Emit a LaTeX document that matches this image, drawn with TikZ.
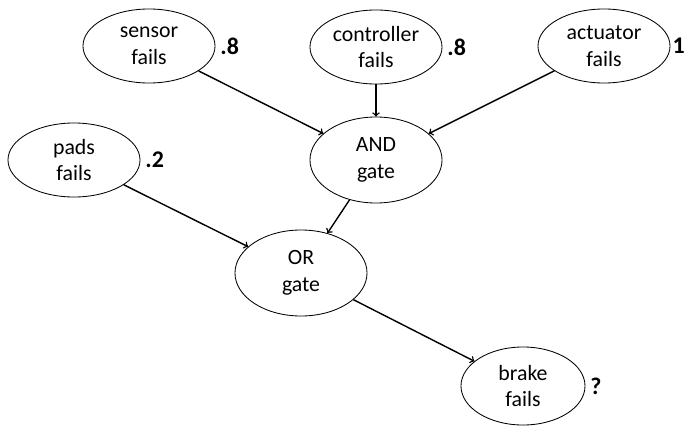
\documentclass[tikz,border=0pt]{standalone}
\usepackage{fontspec}
\setmainfont{Carlito}
\usetikzlibrary{shapes.geometric}
\tikzset{
    event/.style={draw,ellipse,line width=0.6pt,minimum width=3.3cm,minimum height=1.85cm,inner sep=0pt,align=center,font=\fontsize{15.5}{19}\selectfont},
    prob/.style={font=\fontsize{17}{20}\selectfont\bfseries,label distance=0pt},
    link/.style={->,line width=1pt}
}
\begin{document}
\begin{tikzpicture}[x=0.025cm,y=-0.025cm]
        \useasboundingbox(0,0)rectangle(685,428);
        \node[event,label={[prob]right:.8}](sensor)at(149,46){sensor\\fails};
        \node[event,label={[prob]right:.8}](controller)at(376,47){controller\\fails};
        \node[event,label={[prob,label distance=-2pt]right:1}](actuator)at(604,46){actuator\\fails};
        \node[event,label={[prob]right:.2}](pads)at(74,160){pads\\fails};
        \node[event,minimum height=2.15cm](and)at(376,160){AND\\gate};
        \node[event,minimum height=2.15cm](or)at(301,273){OR\\gate};
        \node[event,minimum width=3.1cm,minimum height=1.95cm,label={[prob]right:?}](brake)at(523,386){brake\\fails};
        \draw[link](sensor)--(and);
        \draw[link](controller)--(and);
        \draw[link](actuator)--(and);
        \draw[link](pads)--(or);
        \draw[link](and)--(or);
        \draw[link](or)--(brake);
    \end{tikzpicture}
\end{document}
